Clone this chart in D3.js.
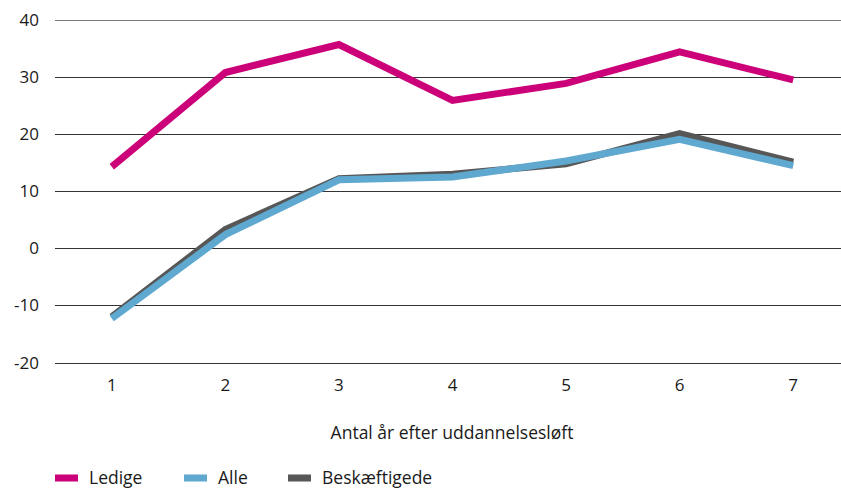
<!DOCTYPE html>
<html>
<head>
<meta charset="utf-8">
<script src="https://cdn.jsdelivr.net/npm/d3@7"></script>
<style>
  body { margin: 0; background: #fff; }
  svg text { font-family: "Open Sans", sans-serif; fill: #1a1a1a; }
</style>
</head>
<body>
<div id="chart"></div>
<script>
const years = ["1", "2", "3", "4", "5", "6", "7"];
const ledige = [14.3, 30.8, 35.7, 25.9, 28.9, 34.4, 29.5];
const alle = [-12.3, 2.4, 12.0, 12.5, 15.3, 19.1, 14.5];
const beskaeftigede = [-12.0, 3.3, 12.2, 13.0, 14.8, 20.1, 15.1];
const yTicks = [-20, -10, 0, 10, 20, 30, 40];

const series = [
  { name: "Ledige", values: ledige, color: "#cc0078" },
  { name: "Alle", values: alle, color: "#5fa8d0" },
  { name: "Beskæftigede", values: beskaeftigede, color: "#575757" }
];

let width = 841, height = 488;

const svg = d3.select("#chart").append("svg")
  .attr("width", width)
  .attr("height", height);

// band of 7 equal slots, the last one runs past the picture edge
const x = d3.scaleBand().domain(years).range([55, 850]);
const y = d3.scaleLinear().domain([-20, 40]).range([362.5, 20]);

// gridlines
svg.append("g")
  .selectAll("line")
  .data(yTicks)
  .join("line")
  .attr("x1", 55)
  .attr("x2", width)
  .attr("y1", d => Math.round(y(d)) + 0.5)
  .attr("y2", d => Math.round(y(d)) + 0.5)
  .attr("stroke", d => d == 40 ? "#7a7a7a" : "#333")
  .attr("stroke-width", 1);

// y tick labels
svg.append("g")
  .selectAll("text")
  .data(yTicks)
  .join("text")
  .attr("x", 39)
  .attr("y", d => y(d) + 6)
  .attr("text-anchor", "end")
  .style("font-size", "17px")
  .text(d => d);

// x tick labels
svg.append("g")
  .selectAll("text")
  .data(years)
  .join("text")
  .attr("x", d => x(d) + x.bandwidth() / 2)
  .attr("y", 391)
  .attr("text-anchor", "middle")
  .style("font-size", "17px")
  .text(d => d);

svg.append("text")
  .attr("x", 452)
  .attr("y", 439)
  .attr("text-anchor", "middle")
  .style("font-size", "17.5px")
  .text("Antal år efter uddannelsesløft");

const line = d3.line()
  .x((d, i) => x(years[i]) + x.bandwidth() / 2)
  .y(d => y(d));

// grey first so blue sits on top of it
const drawOrder = [series[2], series[1], series[0]];
svg.append("g")
  .selectAll("path")
  .data(drawOrder)
  .join("path")
  .attr("d", d => line(d.values))
  .attr("fill", "none")
  .attr("stroke", d => d.color)
  .attr("stroke-width", 7)
  .attr("stroke-linejoin", "miter")
  .attr("stroke-linecap", "butt");

// legend
const legendX = [55, 184, 288];
const legend = svg.append("g")
  .selectAll("g")
  .data(series)
  .join("g")
  .attr("transform", (d, i) => `translate(${legendX[i]}, 478)`);

legend.append("rect")
  .attr("x", 0)
  .attr("y", -3.5)
  .attr("width", 23)
  .attr("height", 7)
  .attr("fill", d => d.color);

legend.append("text")
  .attr("x", 34)
  .attr("y", 6)
  .style("font-size", "17.5px")
  .text(d => d.name);
</script>
</body>
</html>
